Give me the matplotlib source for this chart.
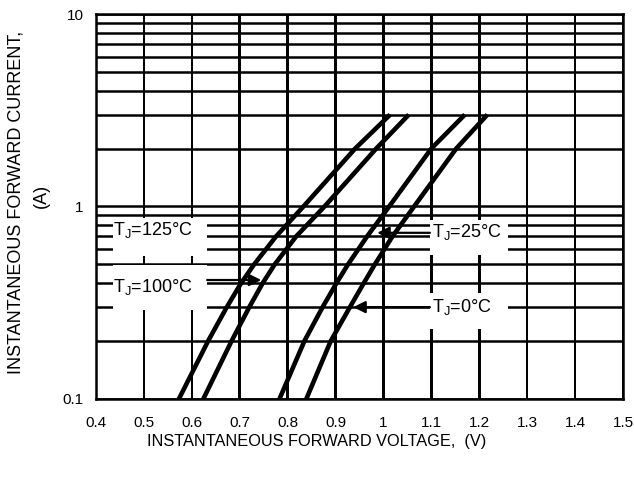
import matplotlib
matplotlib.use("Agg")
from matplotlib import pyplot as plt
from matplotlib.ticker import FixedLocator

plt.rcParams["font.family"] = ["Liberation Sans", "DejaVu Sans"]

# forward current (A) and voltage (V)
current = [0.1, 0.2, 0.3, 0.4, 0.5, 0.7, 1.0, 2.0, 3.0]
v_125 = [0.573, 0.634, 0.673, 0.703, 0.730, 0.776, 0.833, 0.941, 1.014]
v_100 = [0.624, 0.683, 0.720, 0.748, 0.773, 0.818, 0.877, 0.985, 1.053]
v_25 = [0.783, 0.835, 0.873, 0.902, 0.926, 0.966, 1.012, 1.100, 1.170]
v_0 = [0.839, 0.890, 0.930, 0.959, 0.982, 1.019, 1.064, 1.152, 1.217]

x_ticks = [0.4, 0.5, 0.6, 0.7, 0.8, 0.9, 1.0, 1.1, 1.2, 1.3, 1.4, 1.5]
x_labels = ["0.4", "0.5", "0.6", "0.7", "0.8", "0.9", "1", "1.1", "1.2", "1.3", "1.4", "1.5"]
y_ticks = [0.1, 1, 10]
y_labels = ["0.1", "1", "10"]

fig = plt.figure(figsize=(6.34, 4.88), dpi=100)
ax = fig.add_axes([0.1514, 0.1824, 0.8312, 0.7889])

ax.set_yscale("log")
ax.set_xlim(0.4, 1.5)
ax.set_ylim(0.1, 10)

# grid: every 0.1 V, every log step in current
grid_y = [k * d for d in (0.1, 1) for k in range(1, 10)] + [10]
for yv in grid_y:
    ax.axhline(yv, color="black", lw=1.8, zorder=1)
# vertical lines as thin filled strips (about 2.5 px wide)
half = 0.0027
for xv in x_ticks:
    ax.axvspan(xv - half, xv + half, facecolor="black", edgecolor="none", zorder=1)

for v in (v_125, v_100, v_25, v_0):
    ax.plot(v, current, color="black", lw=3.3, zorder=3, solid_capstyle="butt",
            solid_joinstyle="round")

ax.set_xticks(x_ticks)
ax.set_xticklabels(x_labels)
ax.yaxis.set_major_locator(FixedLocator(y_ticks))
ax.set_yticklabels(y_labels)
ax.yaxis.set_minor_locator(FixedLocator([]))
ax.tick_params(which="both", length=0, labelsize=11)
ax.tick_params(axis="x", pad=12.5)
ax.tick_params(axis="y", pad=9)
for s in ax.spines.values():
    s.set_linewidth(1.8)

# white label boxes
boxes = [(0.4355, 0.555, 0.632, 0.874), (0.4355, 0.291, 0.632, 0.498),
         (1.097, 0.561, 1.260, 0.853), (1.097, 0.232, 1.260, 0.357)]
for x0, y0, x1, y1 in boxes:
    ax.fill_between([x0, x1], [y0, y0], [y1, y1], facecolor="white",
                    edgecolor="none", zorder=1.5)

fs = 13
ax.text(0.4355, 0.757, "T$_{\\mathregular{J}}$=125°C", fontsize=fs, va="center", zorder=4)
ax.text(0.4355, 0.384, "T$_{\\mathregular{J}}$=100°C", fontsize=fs, va="center", zorder=4)
ax.text(1.101, 0.739, "T$_{\\mathregular{J}}$=25°C", fontsize=fs, va="center", zorder=4)
ax.text(1.101, 0.302, "T$_{\\mathregular{J}}$=0°C", fontsize=fs, va="center", zorder=4)

arrow = dict(arrowstyle="-|>", color="black", lw=1.6, mutation_scale=18, shrinkA=0, shrinkB=0)
ax.annotate("", xy=(0.745, 0.415), xytext=(0.632, 0.415), arrowprops=arrow, zorder=4)
ax.annotate("", xy=(0.987, 0.73), xytext=(1.097, 0.73), arrowprops=arrow, zorder=4)
ax.annotate("", xy=(0.937, 0.30), xytext=(1.097, 0.30), arrowprops=arrow, zorder=4)

fig.text(0.499, 0.0963, "INSTANTANEOUS FORWARD VOLTAGE,  (V)", ha="center", va="center",
         fontsize=11.8)
fig.text(0.025, 0.585, "INSTANTANEOUS FORWARD CURRENT,", rotation=90, ha="center",
         va="center", fontsize=13)
fig.text(0.066, 0.598, "(A)", rotation=90, ha="center", va="center", fontsize=13)

fig.savefig("out.png", dpi=100)
